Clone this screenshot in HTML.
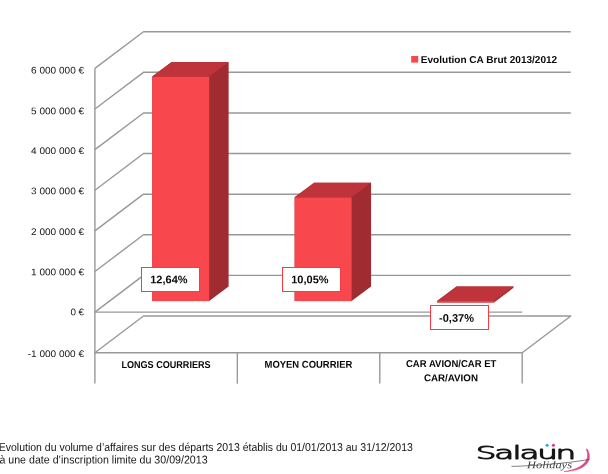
<!DOCTYPE html>
<html lang="fr"><head><meta charset="utf-8"><title>Evolution CA Brut 2013/2012</title>
<style>html,body{margin:0;padding:0;background:#fff}svg{display:block}</style></head>
<body>
<svg width="608" height="474" viewBox="0 0 608 474">
<rect width="608" height="474" fill="#fff"/>
<g fill="none" stroke="#989898" stroke-width="1.4" stroke-linejoin="round">
<path d="M94.9 352.74 L143.50 316.04 H570.80 L522.2 352.74 Z"/>
<path d="M94.9 312.12 L143.50 275.42 H570.80"/>
<path d="M94.9 271.50 L143.50 234.80 H570.80"/>
<path d="M94.9 230.88 L143.50 194.18 H570.80"/>
<path d="M94.9 190.26 L143.50 153.56 H570.80"/>
<path d="M94.9 149.64 L143.50 112.94 H570.80"/>
<path d="M94.9 109.02 L143.50 72.32 H570.80"/>
<path d="M94.9 68.40 L143.50 31.70 H570.80"/>
<path d="M94.9 68.40 V383.6"/>
<path d="M94.9 312.12 H522.2"/>
<path d="M237.33 352.74 V383.6"/>
<path d="M379.77 352.74 V383.6"/>
<path d="M522.20 352.74 V383.6"/>
</g>
<path fill="#A02B30" d="M152.21 76.56 L171.65 61.88 H228.62 V286.43 L209.18 301.11 H152.21 Z"/>
<rect fill="#F8474D" x="152.21" y="76.56" width="56.97" height="224.55"/>
<path fill="#BF343A" d="M152.21 76.56 L171.65 61.88 H228.62 L209.18 76.56 Z"/>
<path fill="#A02B30" d="M294.64 197.33 L314.08 182.65 H371.06 V286.43 L351.62 301.11 H294.64 Z"/>
<rect fill="#F8474D" x="294.64" y="197.33" width="56.97" height="103.78"/>
<path fill="#BF343A" d="M294.64 197.33 L314.08 182.65 H371.06 L351.62 197.33 Z"/>
<path fill="#A02B30" d="M437.08 301.11 L456.52 286.43 H513.49 V287.85 L494.05 302.53 H437.08 Z"/>
<rect fill="#F8474D" x="437.08" y="301.11" width="56.97" height="1.42"/>
<path fill="#BF343A" d="M437.08 301.11 L456.52 286.43 H513.49 L494.05 301.11 Z"/>
<rect x="141.5" y="267.5" width="58.0" height="24.0" fill="#fff" stroke="#F83A46" stroke-width="1"/>
<text transform="rotate(0.03 168.9 283.3)" x="168.9" y="283.3" text-anchor="middle" font-family="'Liberation Sans', sans-serif" font-weight="bold" font-size="11" fill="#08080c">12,64%</text>
<rect x="282.5" y="267.5" width="58.0" height="24.0" fill="#fff" stroke="#F83A46" stroke-width="1"/>
<text transform="rotate(0.03 309.9 283.3)" x="309.9" y="283.3" text-anchor="middle" font-family="'Liberation Sans', sans-serif" font-weight="bold" font-size="11" fill="#08080c">10,05%</text>
<rect x="430.5" y="305.5" width="58.0" height="24.0" fill="#fff" stroke="#F83A46" stroke-width="1"/>
<text transform="rotate(0.03 456.5 321.8)" x="456.5" y="321.8" text-anchor="middle" font-family="'Liberation Sans', sans-serif" font-weight="bold" font-size="11" fill="#08080c">-0,37%</text>
<text transform="rotate(0.03 27.7 357.0)" x="27.7" y="357.0" font-family="'Liberation Sans', sans-serif" font-size="9.6" textLength="56.4" lengthAdjust="spacingAndGlyphs" fill="#141418">-1 000 000 €</text>
<text transform="rotate(0.03 70.4 315.3)" x="70.4" y="315.3" font-family="'Liberation Sans', sans-serif" font-size="9.6" textLength="13.7" lengthAdjust="spacingAndGlyphs" fill="#141418">0 €</text>
<text transform="rotate(0.03 31.1 275.3)" x="31.1" y="275.3" font-family="'Liberation Sans', sans-serif" font-size="9.6" textLength="53.0" lengthAdjust="spacingAndGlyphs" fill="#141418">1 000 000 €</text>
<text transform="rotate(0.03 31.1 234.9)" x="31.1" y="234.9" font-family="'Liberation Sans', sans-serif" font-size="9.6" textLength="53.0" lengthAdjust="spacingAndGlyphs" fill="#141418">2 000 000 €</text>
<text transform="rotate(0.03 31.1 194.3)" x="31.1" y="194.3" font-family="'Liberation Sans', sans-serif" font-size="9.6" textLength="53.0" lengthAdjust="spacingAndGlyphs" fill="#141418">3 000 000 €</text>
<text transform="rotate(0.03 31.1 154.1)" x="31.1" y="154.1" font-family="'Liberation Sans', sans-serif" font-size="9.6" textLength="53.0" lengthAdjust="spacingAndGlyphs" fill="#141418">4 000 000 €</text>
<text transform="rotate(0.03 31.1 114.3)" x="31.1" y="114.3" font-family="'Liberation Sans', sans-serif" font-size="9.6" textLength="53.0" lengthAdjust="spacingAndGlyphs" fill="#141418">5 000 000 €</text>
<text transform="rotate(0.03 31.1 73.6)" x="31.1" y="73.6" font-family="'Liberation Sans', sans-serif" font-size="9.6" textLength="53.0" lengthAdjust="spacingAndGlyphs" fill="#141418">6 000 000 €</text>
<rect x="411.2" y="56" width="7" height="6.6" fill="#F8474D"/>
<text transform="rotate(0.03 420.8 63)" x="420.8" y="63" font-family="'Liberation Sans', sans-serif" font-weight="bold" font-size="10" textLength="136.4" lengthAdjust="spacingAndGlyphs" fill="#08080c">Evolution CA Brut 2013/2012</text>
<text transform="rotate(0.03 121.4 367.8)" x="121.4" y="367.8" font-family="'Liberation Sans', sans-serif" font-weight="bold" font-size="10" textLength="89.2" lengthAdjust="spacingAndGlyphs" fill="#08080c">LONGS COURRIERS</text>
<text transform="rotate(0.03 264.5 367.8)" x="264.5" y="367.8" font-family="'Liberation Sans', sans-serif" font-weight="bold" font-size="10" textLength="87.8" lengthAdjust="spacingAndGlyphs" fill="#08080c">MOYEN COURRIER</text>
<text transform="rotate(0.03 406 367)" x="406" y="367" font-family="'Liberation Sans', sans-serif" font-weight="bold" font-size="10" textLength="90.4" lengthAdjust="spacingAndGlyphs" fill="#08080c">CAR AVION/CAR ET</text>
<text transform="rotate(0.03 423.9 381.2)" x="423.9" y="381.2" font-family="'Liberation Sans', sans-serif" font-weight="bold" font-size="10" textLength="54.1" lengthAdjust="spacingAndGlyphs" fill="#08080c">CAR/AVION</text>
<text transform="rotate(0.03 -1.2 450.6)" x="-1.2" y="450.6" font-family="'Liberation Sans', sans-serif" font-size="11.4" textLength="414" lengthAdjust="spacingAndGlyphs" fill="#141418">Evolution du volume d’affaires sur des départs 2013 établis du 01/01/2013 au 31/12/2013</text>
<text transform="rotate(0.03 -0.6 463.5)" x="-0.6" y="463.5" font-family="'Liberation Sans', sans-serif" font-size="11.4" textLength="208.2" lengthAdjust="spacingAndGlyphs" fill="#141418">à une date d’inscription limite du 30/09/2013</text>
<text transform="scale(1.92,1)" x="247.76 257.45 266.88 270.52 279.79 289.38" y="458.6" font-family="'DejaVu Sans', 'Liberation Sans', sans-serif" font-weight="200" font-size="17" fill="#161616" stroke="#161616" stroke-width="1.4" vector-effect="non-scaling-stroke" stroke-linejoin="round">Salaün</text>
<rect x="541.5" y="442" width="12" height="5.4" fill="#fff"/>
<circle cx="547.1" cy="445.2" r="1.5" fill="#2aa8e0"/><circle cx="553.4" cy="445.2" r="1.5" fill="#e6308a"/>
<path d="M587 448.8 C592.5 457 590.5 470.5 564 471.6 C585 468.6 590.5 458.5 586.2 449.3 Z" fill="#d9488e" stroke="#d9488e" stroke-width="0.5"/>
<path d="M511.5 466.4 C535 465.8 565 463.6 589.5 459.4" fill="none" stroke="#4a4a4a" stroke-width="0.7"/>
<text transform="rotate(0.03 527 468.2)" x="527" y="468.2" font-family="'Liberation Serif', serif" font-style="italic" font-size="10.5" textLength="45" lengthAdjust="spacingAndGlyphs" fill="#444">Holidays</text>
</svg>
</body></html>
